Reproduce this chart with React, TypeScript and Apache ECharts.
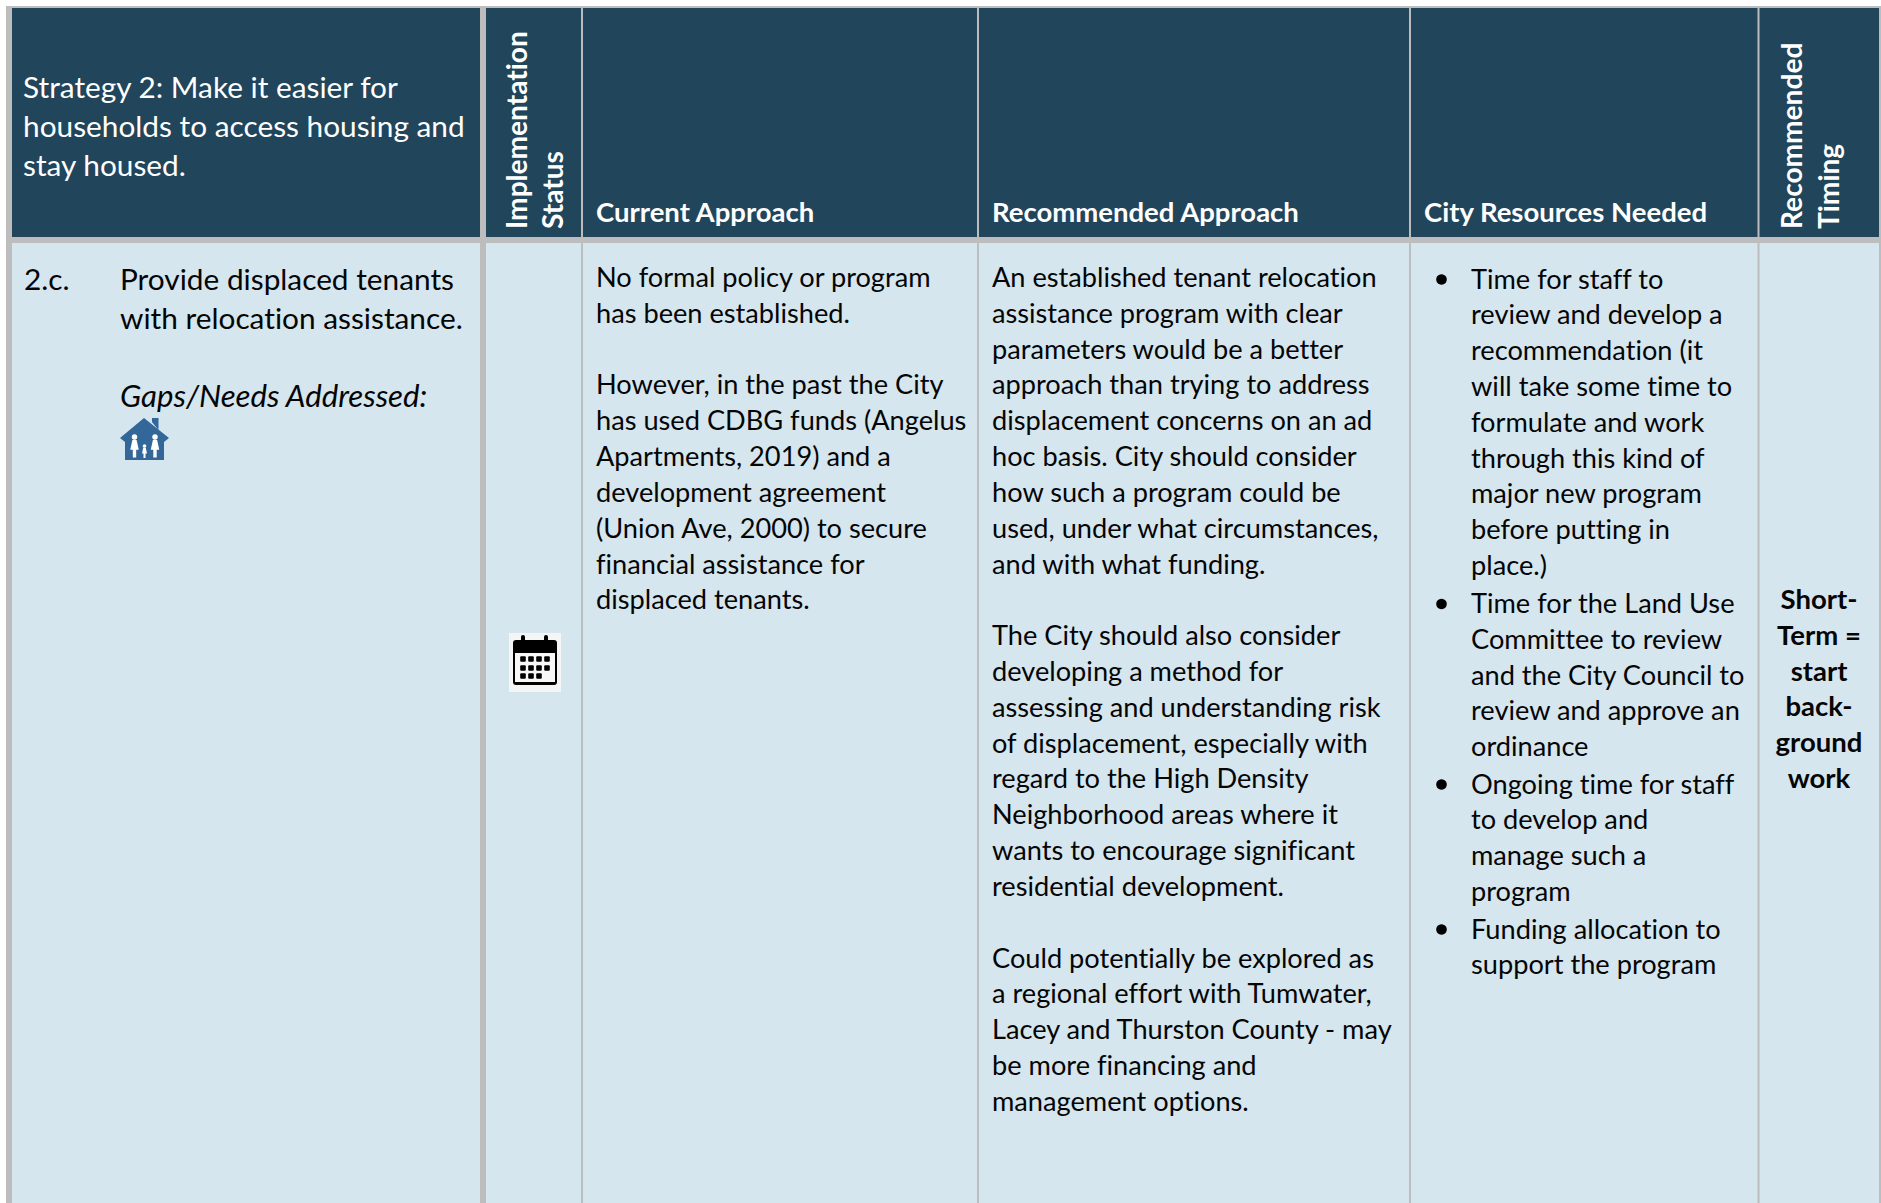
import React, { useEffect, useRef } from "react";
import * as echarts from "echarts";

const W = 1881;
const H = 1203;

const strategyLines = ["Strategy 2: Make it easier for", "households to access housing and", "stay housed."];
const rotatedHeaders = ["Implementation", "Status", "Recommended", "Timing"];
const columnHeaders = ["Current Approach", "Recommended Approach", "City Resources Needed"];
const itemNumber = "2.c.";
const itemLines = ["Provide displaced tenants", "with relocation assistance."];
const gapsLabel = "Gaps/Needs Addressed:";
const currentApproach = [
  "No formal policy or program", "has been established.", "",
  "However, in the past the City", "has used CDBG funds (Angelus", "Apartments, 2019) and a",
  "development agreement", "(Union Ave, 2000) to secure", "financial assistance for", "displaced tenants.",
];
const recommendedApproach = [
  "An established tenant relocation", "assistance program with clear", "parameters would be a better",
  "approach than trying to address", "displacement concerns on an ad", "hoc basis. City should consider",
  "how such a program could be", "used, under what circumstances,", "and with what funding.", "",
  "The City should also consider", "developing a method for", "assessing and understanding risk",
  "of displacement, especially with", "regard to the High Density", "Neighborhood areas where it",
  "wants to encourage significant", "residential development.", "",
  "Could potentially be explored as", "a regional effort with Tumwater,", "Lacey and Thurston County - may",
  "be more financing and", "management options.",
];
const resourceBullets = [
  ["Time for staff to", "review and develop a", "recommendation (it", "will take some time to", "formulate and work", "through this kind of", "major new program", "before putting in", "place.)"],
  ["Time for the Land Use", "Committee to review", "and the City Council to", "review and approve an", "ordinance"],
  ["Ongoing time for staff", "to develop and", "manage such a", "program"],
  ["Funding allocation to", "support the program"],
];
const timingLines = ["Short-", "Term =", "start", "back-", "ground", "work"];

const NAVY = "#21455B";
const BODY = "#D5E6EF";
const GREY = "#BDBDBD";
const INK = "#050505";
const FONT = "Lato";
const BODY_SIZE = 27.2;
const BOLD_SIZE = 27.5;
const ROTATED_SIZE = 28.1;
const LARGE_SIZE = 29.8;
const ITALIC_SIZE = 31.2;
const STEP = 35.82;

function txt(text: string, x: number, y: number, o: any = {}) {
  const { rotation, scaleX, ...style } = o;
  return {
    type: "text", x, y, rotation: rotation ?? 0, scaleX: scaleX ?? 1, silent: true,
    style: { text, fontFamily: FONT, fontSize: BODY_SIZE, fill: INK, align: "left", verticalAlign: "middle", ...style },
  };
}
function rect(x: number, y: number, width: number, height: number, fill: string, r = 0) {
  return { type: "rect", silent: true, shape: { x, y, width, height, r }, style: { fill } };
}

function buildElements() {
  const els: any[] = [];
  els.push(rect(6, 6, W - 6, H - 6, GREY));
  const cols: [number, number][] = [[12, 480], [486, 581], [583, 977], [979, 1409], [1411, 1757.5], [1759.5, 1879]];
  cols.forEach(([a, b]) => {
    els.push(rect(a, 8, b - a, 229, NAVY));
    els.push(rect(a, 243, b - a, H - 243, BODY));
  });

  strategyLines.forEach((l, i) => els.push(txt(l, 23, 86 + i * 39, { fill: "#FFFFFF", fontSize: LARGE_SIZE })));
  const rotX = [515.5, 551.5, 1791, 1827.5];
  rotatedHeaders.forEach((l, i) =>
    els.push(txt(l, rotX[i], 229, { fill: "#FFFFFF", fontWeight: "bold", fontSize: ROTATED_SIZE, rotation: Math.PI / 2 })));
  const headX = [596, 992, 1424];
  columnHeaders.forEach((l, i) => els.push(txt(l, headX[i], 211.5, { fill: "#FFFFFF", fontWeight: "bold", fontSize: BOLD_SIZE })));

  els.push(txt(itemNumber, 24, 278, { fontSize: LARGE_SIZE }));
  itemLines.forEach((l, i) => els.push(txt(l, 120, 278 + i * 39, { fontSize: LARGE_SIZE })));
  els.push(txt(gapsLabel, 120, 395, { fontSize: ITALIC_SIZE, fontStyle: "italic" }));

  currentApproach.forEach((l, i) => l && els.push(txt(l, 596, 276.5 + i * STEP)));
  recommendedApproach.forEach((l, i) => l && els.push(txt(l, 992, 276.5 + i * STEP)));

  const bulletStart = [278, 602.5, 783, 928];
  resourceBullets.forEach((lines, b) => {
    els.push({ type: "circle", silent: true, shape: { cx: 1441.5, cy: bulletStart[b] + 1.5, r: 5.3 }, style: { fill: "#000" } });
    lines.forEach((l, i) => els.push(txt(l, 1471, bulletStart[b] + i * STEP)));
  });

  timingLines.forEach((l, i) =>
    els.push(txt(l, 1819, 598.5 + i * STEP, { fontWeight: "bold", fontSize: BOLD_SIZE, align: "center" })));

  // house icon
  const BLUE = "#336699";
  els.push({ type: "polygon", silent: true, shape: { points: [[152, 422], [152, 418], [158.5, 418], [158.5, 430]] }, style: { fill: BLUE } });
  els.push({ type: "polygon", silent: true, shape: { points: [[144, 418], [169, 438], [164, 442], [164, 460], [125, 460], [125, 442], [120, 438]] }, style: { fill: BLUE } });
  [[134.5, 437, 0.85], [155, 437, 0.85], [144.5, 446, 0.5]].forEach(([cx, cy, s]) => {
    els.push({ type: "circle", silent: true, shape: { cx, cy, r: 2.8 * (s + 0.15) }, style: { fill: "#fff" } });
    els.push({
      type: "polygon", silent: true,
      shape: { points: [[cx - 2.5 * s, cy + 3.5 * s], [cx + 2.5 * s, cy + 3.5 * s], [cx + 5 * s, cy + 15 * s], [cx + 2 * s, cy + 15 * s], [cx + 2 * s, cy + 24 * s], [cx - 2 * s, cy + 24 * s], [cx - 2 * s, cy + 15 * s], [cx - 5 * s, cy + 15 * s]] },
      style: { fill: "#fff" },
    });
  });

  // calendar icon
  els.push(rect(509, 633, 52, 59, "#F4F5F5"));
  els.push(rect(513, 640, 44, 45, "#000", 3));
  els.push(rect(515, 653, 40, 29, "#F7F7F7"));
  [523, 546].forEach((x) => els.push(rect(x - 2, 635, 4, 11, "#000", 2)));
  const rows = [659, 668, 676];
  const colsX = [523, 531, 539, 547];
  rows.forEach((y, r) => colsX.forEach((x, c) => {
    if (r === 2 && c === 3) return;
    els.push(rect(x - 2.8, y - 2.8, 5.6, 5.6, "#000", 1));
  }));
  return els;
}

export default function App() {
  const ref = useRef<HTMLDivElement>(null);
  useEffect(() => {
    const chart = echarts.init(ref.current!, undefined, { renderer: "svg" });
    chart.setOption({ animation: false, backgroundColor: "#FFFFFF", graphic: { elements: buildElements() } });
    return () => chart.dispose();
  }, []);
  return <div ref={ref} style={{ position: "absolute", left: 0, top: 0, width: W, height: H, fontVariantLigatures: "none" }} />;
}
